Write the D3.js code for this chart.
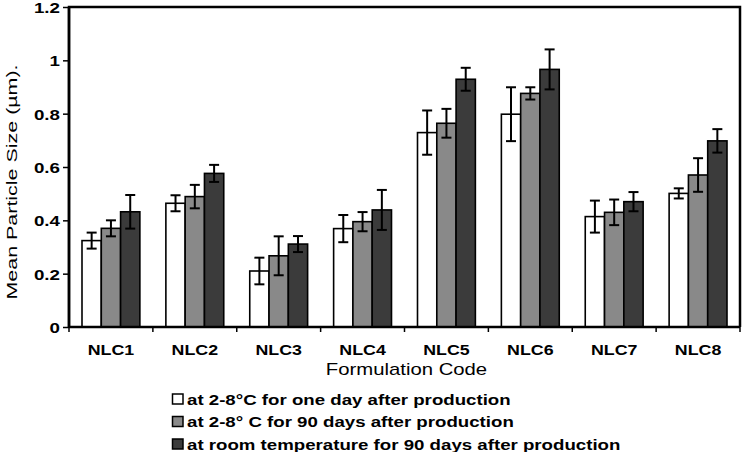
<!DOCTYPE html>
<html>
<head>
<meta charset="utf-8">
<script src="https://cdn.jsdelivr.net/npm/d3@7"></script>
<style>
  html, body { margin: 0; padding: 0; background: #fff; }
  svg { display: block; }
  text { font-family: "Liberation Sans", Arial, sans-serif; fill: #000; }
</style>
</head>
<body>
<svg id="chart" width="742" height="452"></svg>
<script>
// ---- data ----
const categories = ["NLC1", "NLC2", "NLC3", "NLC4", "NLC5", "NLC6", "NLC7", "NLC8"];
const seriesNames = [
  "at 2-8\u00B0C for one day after production",
  "at 2-8\u00B0 C for 90 days after production",
  "at room temperature for 90 days after production"
];
const oneDay   = [0.324, 0.464, 0.210, 0.369, 0.729, 0.798, 0.414, 0.501];
const cold90   = [0.370, 0.489, 0.267, 0.395, 0.764, 0.876, 0.430, 0.570];
const room90   = [0.432, 0.576, 0.311, 0.439, 0.929, 0.966, 0.470, 0.698];
const oneDayErr = [0.030, 0.030, 0.050, 0.051, 0.083, 0.101, 0.060, 0.019];
const cold90Err = [0.030, 0.044, 0.073, 0.036, 0.054, 0.023, 0.048, 0.063];
const room90Err = [0.063, 0.032, 0.030, 0.075, 0.043, 0.075, 0.036, 0.044];
const yTicks = [0, 0.2, 0.4, 0.6, 0.8, 1, 1.2];
const yTickLabels = ["0", "0.2", "0.4", "0.6", "0.8", "1", "1.2"];
const xTitle = "Formulation Code";
const yTitle = "Mean Particle Size (\u00B5m).";

const seriesValues = [oneDay, cold90, room90];
const seriesErrors = [oneDayErr, cold90Err, room90Err];
const colors = ["#ffffff", "#898989", "#3b3b3b"];

// ---- layout ----
const pLeft = 69, pRight = 740, pTop = 7, pBottom = 327;
const svg = d3.select("#chart");

const x = d3.scaleBand().domain(categories).range([pLeft, pRight]).paddingInner(0).paddingOuter(0);
const xs = d3.scaleBand().domain(d3.range(3)).range([13, x.bandwidth() - 13]).padding(0);
const y = d3.scaleLinear().domain([0, 1.2]).range([pBottom, pTop]);

// stretch helper for text (reference text is horizontally stretched)
function stretched(sel, sx) {
  return sel.attr("transform", function() {
    const px = +d3.select(this).attr("data-x"), py = +d3.select(this).attr("data-y");
    return `translate(${px},${py}) scale(${sx},1)`;
  });
}

// bars
const rows = [];
categories.forEach((c, i) => {
  seriesValues.forEach((vals, s) => rows.push({ c, s, v: vals[i], e: seriesErrors[s][i] }));
});

const g = svg.append("g");
g.selectAll("rect.bar").data(rows).enter().append("rect")
  .attr("class", "bar")
  .attr("x", d => x(d.c) + xs(d.s))
  .attr("y", d => y(d.v))
  .attr("width", xs.bandwidth())
  .attr("height", d => y(0) - y(d.v))
  .attr("fill", d => colors[d.s])
  .attr("stroke", "#000")
  .attr("stroke-width", 1.6);

// error bars
const eb = g.selectAll("g.err").data(rows).enter().append("g").attr("class", "err")
  .attr("stroke", "#000").attr("stroke-width", 2);
eb.append("line")
  .attr("x1", d => x(d.c) + xs(d.s) + xs.bandwidth() / 2)
  .attr("x2", d => x(d.c) + xs(d.s) + xs.bandwidth() / 2)
  .attr("y1", d => y(d.v + d.e)).attr("y2", d => y(d.v - d.e));
[1, -1].forEach(sign => {
  eb.append("line")
    .attr("x1", d => x(d.c) + xs(d.s) + xs.bandwidth() / 2 - 5)
    .attr("x2", d => x(d.c) + xs(d.s) + xs.bandwidth() / 2 + 5)
    .attr("y1", d => y(d.v + sign * d.e)).attr("y2", d => y(d.v + sign * d.e));
});

// frame
svg.append("path")
  .attr("d", `M${pLeft},${pBottom} L${pLeft},${pTop} L${pRight},${pTop} L${pRight},${pBottom}`)
  .attr("fill", "none").attr("stroke", "#000").attr("stroke-width", 2.5);

// y axis
const yAxis = d3.axisLeft(y).tickValues(yTicks).tickSize(6).tickFormat(() => "");
const ya = svg.append("g").attr("transform", `translate(${pLeft},0)`).call(yAxis);
ya.select(".domain").remove();
ya.selectAll(".tick line").attr("stroke", "#000").attr("stroke-width", 1.5);
svg.append("line").attr("x1", pLeft).attr("x2", pLeft).attr("y1", pTop).attr("y2", pBottom)
  .attr("stroke", "#000").attr("stroke-width", 2.5);

svg.append("g").selectAll("text").data(yTicks).enter().append("text")
  .attr("data-x", 60).attr("data-y", d => y(d) + 6)
  .attr("text-anchor", "end")
  .style("font-size", "15px").style("font-weight", "bold")
  .text((d, i) => yTickLabels[i])
  .call(stretched, 1.25);

// x axis
const boundaries = categories.map(c => x(c)).concat([pRight]);
svg.append("g").selectAll("line").data(boundaries).enter().append("line")
  .attr("x1", d => d).attr("x2", d => d).attr("y1", pBottom).attr("y2", pBottom + 5)
  .attr("stroke", "#000").attr("stroke-width", 1.5);
svg.append("line").attr("x1", pLeft).attr("x2", pRight).attr("y1", pBottom).attr("y2", pBottom)
  .attr("stroke", "#000").attr("stroke-width", 2.5);

svg.append("g").selectAll("text").data(categories).enter().append("text")
  .attr("data-x", d => x(d) + x.bandwidth() / 2).attr("data-y", 355)
  .attr("text-anchor", "middle")
  .style("font-size", "14px").style("font-weight", "bold")
  .text(d => d)
  .call(stretched, 1.27);

// x title
svg.append("text")
  .attr("data-x", 406.5).attr("data-y", 375)
  .attr("text-anchor", "middle")
  .style("font-size", "16px")
  .text(xTitle)
  .call(stretched, 1.27);

// y title
svg.append("text")
  .attr("transform", "translate(17,182) rotate(-90) scale(1.43,1)")
  .attr("text-anchor", "middle")
  .style("font-size", "15px")
  .text(yTitle);

// legend
const leg = svg.append("g");
const legY = [404.5, 427, 449.5];
seriesNames.forEach((name, i) => {
  leg.append("rect").attr("x", 172.5).attr("y", legY[i] - 10.5).attr("width", 10.5).attr("height", 10)
    .attr("fill", colors[i]).attr("stroke", "#000").attr("stroke-width", 1.5);
});
leg.selectAll("text").data(seriesNames).enter().append("text")
  .attr("data-x", 187).attr("data-y", (d, i) => legY[i])
  .style("font-size", "15px").style("font-weight", "bold")
  .text(d => d)
  .call(stretched, 1.245);
</script>
</body>
</html>
